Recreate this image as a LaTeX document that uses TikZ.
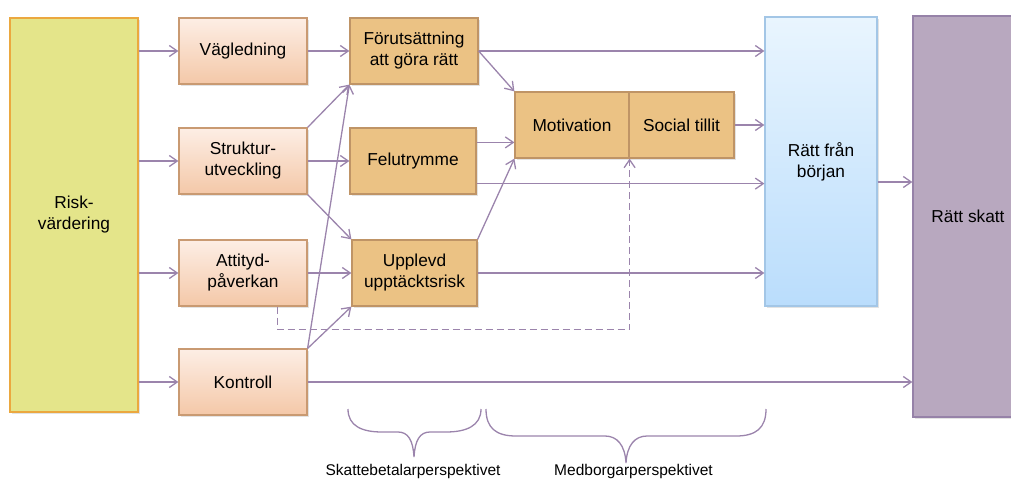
\documentclass[tikz,border=0pt]{standalone}
\usepackage{fontspec}
\setmainfont{Liberation Sans}
\usetikzlibrary{arrows.meta,shadows}
\definecolor{arrc}{HTML}{9B84AC}
\definecolor{pinktop}{HTML}{FDEEE5}
\definecolor{pinkbot}{HTML}{F4C8A8}
\definecolor{pinkline}{HTML}{C99A72}
\definecolor{orfill}{HTML}{EBC284}
\definecolor{orline}{HTML}{BF9466}
\definecolor{riskfill}{HTML}{E4E58A}
\definecolor{riskline}{HTML}{EBA83F}
\definecolor{bluetop}{HTML}{E9F5FE}
\definecolor{bluebot}{HTML}{BADDFC}
\definecolor{blueline}{HTML}{A3C6E6}
\definecolor{purpfill}{HTML}{B8A8BF}
\definecolor{purpline}{HTML}{9682A8}
\newcommand{\boxfont}{\fontsize{17.3}{21}\selectfont}
\newcommand{\lblfont}{\fontsize{15.5}{18}\selectfont}
\begin{document}
\begin{tikzpicture}[x=1pt,y=-1pt,
  base/.style={draw, line width=1.2pt, align=center, inner sep=2pt, font=\boxfont,
    drop shadow={opacity=0.22,shadow xshift=1.5pt,shadow yshift=-2pt}},
  pinkbox/.style={base, top color=pinktop, bottom color=pinkbot, draw=pinkline,
    minimum width=128pt, minimum height=66pt},
  orbox/.style={base, fill=orfill, draw=orline, minimum height=66pt},
  riskbox/.style={base, fill=riskfill, draw=riskline},
  bluebox/.style={base, top color=bluetop, bottom color=bluebot, draw=blueline},
  purpbox/.style={base, fill=purpfill, draw=purpline},
  arr/.style={draw=arrc, line width=1.3pt, -{Straight Barb[length=8pt,width=11pt]}},
  dasharr/.style={arr, dash pattern=on 7pt off 4pt},
  bracel/.style={draw=arrc, line width=1.3pt},
  lbl/.style={font=\lblfont, inner sep=0pt}
]
\useasboundingbox (0,0) rectangle (1011,479);

% boxes
\node[riskbox, minimum width=128pt, minimum height=394pt] (risk) at (74,215) {Risk-\\värdering};
\node[pinkbox] (vag) at (243,51) {Vägledning};
\node[pinkbox] (str) at (243,161) {Struktur-\\utveckling};
\node[pinkbox] (att) at (243,273) {Attityd-\\påverkan};
\node[pinkbox] (kon) at (243,382) {Kontroll};
\node[orbox, minimum width=128pt] (for) at (414,51) {Förutsättning\\att göra rätt};
\node[orbox, minimum width=126pt] (fel) at (413,161) {Felutrymme};
\node[orbox, minimum width=125pt] (upp) at (414.5,273) {Upplevd\\upptäcktsrisk};
\node[orbox, minimum width=114pt] (mot) at (572,125) {Motivation};
\node[orbox, minimum width=105pt] (soc) at (681.5,125) {Social tillit};
\node[bluebox, minimum width=112pt, minimum height=289pt] (rfb) at (821,161.5) {Rätt från\\början};
\node[purpbox, minimum width=110pt, minimum height=401pt] (rs) at (968,216.5) {Rätt skatt};

\coordinate (r182) at (0,182);

% arrows from Riskvärdering
\draw[arr] (risk.east |- vag.west) -- (vag.west);
\draw[arr] (risk.east |- str.west) -- (str.west);
\draw[arr] (risk.east |- att.west) -- (att.west);
\draw[arr] (risk.east |- kon.west) -- (kon.west);

% second column
\draw[arr] (vag.east) -- (for.west);
\draw[arr] (str.east) -- (fel.west);
\draw[arr] (str.north east) -- (for.south west);
\draw[arr] (str.south east) -- (upp.north west);
\draw[arr] (att.east) -- (upp.west);
\draw[arr] (kon.north east) -- (for.south west);
\draw[arr] (kon.north east) -- (upp.south west);

% third column
\draw[arr] (for.east) -- (for.east -| rfb.west);
\draw[arr] (for.east) -- (mot.north west);
\draw[arr] ([yshift=-15pt]fel.north east) -- ([yshift=-15pt]fel.north east -| mot.west);
\draw[arr] ([yshift=11pt]fel.south east) -- ([yshift=11pt]fel.south east -| rfb.west);
\draw[arr] (upp.north east) -- (mot.south west);
\draw[arr] (upp.east) -- (upp.east -| rfb.west);
\draw[arr] (soc.east) -- (soc.east -| rfb.west);

% to Rätt skatt
\draw[arr] (rfb.east |- r182) -- (rs.west |- r182);
\draw[arr] (kon.east) -- (kon.east -| rs.west);

% dashed feedback
\draw[dasharr] ([xshift=-30pt]att.south east) -- ++(0,23) -| (mot.south east);

% braces
\draw[bracel] (348,409) .. controls (348,426) and (362,432) .. (382,432) -- (398,432)
  .. controls (408,432) and (413,440) .. (414,457)
  .. controls (415,440) and (420,432) .. (430,432) -- (446,432)
  .. controls (466,432) and (481,426) .. (481,409);
\draw[bracel] (486,409) .. controls (486,428) and (496,436) .. (516,436) -- (605,436)
  .. controls (617,436) and (625,445) .. (626,463)
  .. controls (627,445) and (635,436) .. (647,436) -- (736,436)
  .. controls (756,436) and (766,428) .. (766,409);

\node[lbl, anchor=base] (l1) at (413,475.5) {Skattebetalarperspektivet};
\node[lbl, anchor=base] (l2) at (633.5,475.5) {Medborgarperspektivet};
\end{tikzpicture}
\end{document}
